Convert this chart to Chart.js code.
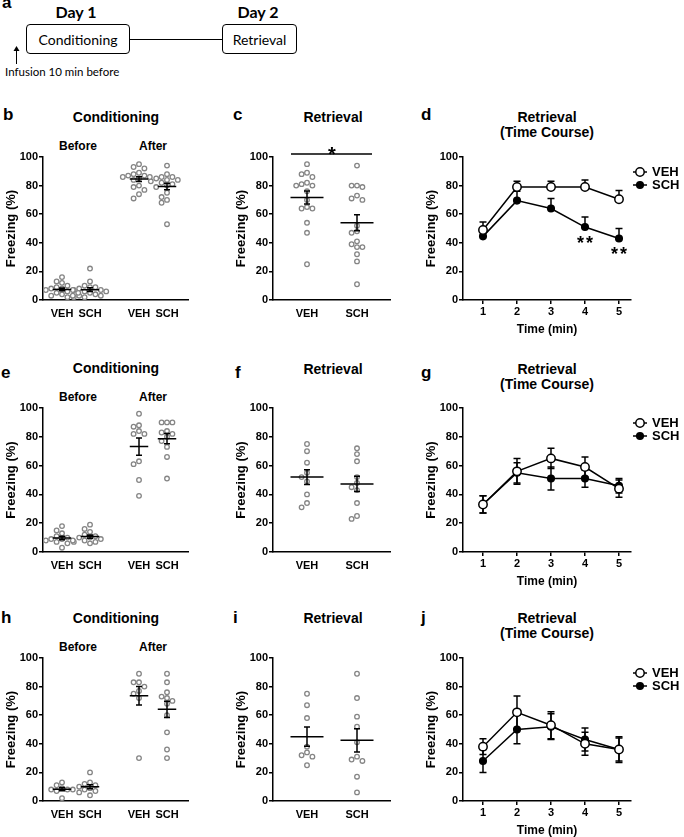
<!DOCTYPE html>
<html>
<head>
<meta charset="utf-8">
<script src="https://cdn.jsdelivr.net/npm/chart.js@4.4.1/dist/chart.umd.min.js"></script>
<style>
  body { margin: 0; background: #fff; }
  #fig { position: relative; width: 684px; height: 837px; overflow: hidden; font-family: 'Liberation Sans', Arial, sans-serif; color: #000; }
  canvas { position: absolute; }
  .t { position: absolute; transform: translate(-50%, -50%); white-space: nowrap; font-weight: bold; font-size: 14px; }
  .small { font-size: 12px; }
  .lbl { position: absolute; font-weight: bold; font-size: 17px; line-height: 17px; }
  .day { font-family: Lato, 'Open Sans', sans-serif; font-size: 16px; }
  .box { position: absolute; box-sizing: border-box; border: 1px solid #000; border-radius: 4px; display: flex; align-items: center; justify-content: center; font-family: Lato, 'Open Sans', sans-serif; font-size: 14px; }
  .hline { position: absolute; height: 0; border-top: 1px solid #000; }
  .note { position: absolute; font-family: Lato, 'Open Sans', sans-serif; font-size: 11.5px; white-space: nowrap; }
</style>
</head>
<body>
<div id="fig">
  <!-- a: schematic -->
  <div class="lbl" style="left:2px;top:-6px">a</div>
  <div class="t day" style="left:76px;top:11px">Day 1</div>
  <div class="t day" style="left:258px;top:11px">Day 2</div>
  <div class="box" style="left:26px;top:24px;width:104px;height:30px">Conditioning</div>
  <div class="hline" style="left:130px;top:39px;width:92px"></div>
  <div class="box" style="left:222px;top:24px;width:75px;height:30px">Retrieval</div>
  <svg style="position:absolute;left:12px;top:46px" width="9" height="19">
    <line x1="4.5" y1="4" x2="4.5" y2="18" stroke="#000" stroke-width="1"/>
    <polygon points="4.5,0 1.5,5 7.5,5" fill="#000"/>
  </svg>
  <div class="note" style="left:5px;top:65px">Infusion 10 min before</div>

  <!-- panel letters and titles -->
  <div class="lbl" style="left:3px;top:106px">b</div>
  <div class="lbl" style="left:233px;top:106px">c</div>
  <div class="lbl" style="left:421px;top:106px">d</div>
  <div class="lbl" style="left:1px;top:364px">e</div>
  <div class="lbl" style="left:235px;top:364px">f</div>
  <div class="lbl" style="left:421px;top:364px">g</div>
  <div class="lbl" style="left:1px;top:609px">h</div>
  <div class="lbl" style="left:233px;top:609px">i</div>
  <div class="lbl" style="left:421px;top:609px">j</div>

  <div class="t" style="left:116px;top:117px">Conditioning</div>
  <div class="t small" style="left:78px;top:146px">Before</div>
  <div class="t small" style="left:153px;top:146px">After</div>
  <div class="t" style="left:333px;top:117px">Retrieval</div>
  <div class="t" style="left:547px;top:117px">Retrieval</div>
  <div class="t" style="left:547px;top:132px">(Time Course)</div>

  <div class="t" style="left:116px;top:368px">Conditioning</div>
  <div class="t small" style="left:78px;top:397px">Before</div>
  <div class="t small" style="left:153px;top:397px">After</div>
  <div class="t" style="left:333px;top:369px">Retrieval</div>
  <div class="t" style="left:547px;top:369px">Retrieval</div>
  <div class="t" style="left:547px;top:384px">(Time Course)</div>

  <div class="t" style="left:116px;top:618px">Conditioning</div>
  <div class="t small" style="left:78px;top:647px">Before</div>
  <div class="t small" style="left:153px;top:647px">After</div>
  <div class="t" style="left:333px;top:618px">Retrieval</div>
  <div class="t" style="left:547px;top:618px">Retrieval</div>
  <div class="t" style="left:547px;top:633px">(Time Course)</div>
</div>

<script>
// ---- data ----
var groupLabels = ['VEH', 'SCH'];
var conditioningLabels = ['VEH', 'SCH', 'VEH', 'SCH'];
var timeMinutes = [1, 2, 3, 4, 5];
var yTicks = [0, 20, 40, 60, 80, 100];

// b: conditioning (freezing %, each mouse)
var bBeforeVEH = [16, 13, 12, 10, 9, 8, 8, 7, 7, 6, 5, 5, 4, 3, 3, 2];
var bBeforeSCH = [22, 13, 10, 9, 9, 8, 7, 7, 6, 6, 5, 4, 3, 3, 2, 2];
var bAfterVEH = [95, 93, 92, 89, 88, 87, 87, 86, 86, 85, 84, 80, 79, 77, 74, 71];
var bAfterSCH = [94, 88, 86, 86, 85, 84, 84, 83, 82, 81, 80, 79, 75, 72, 70, 68, 53];
// c: retrieval
var cVEH = [95, 89, 88, 86, 82, 81, 80, 80, 76, 70, 65, 64, 64, 54, 47, 25];
var cSCH = [94, 80, 80, 79, 73, 71, 70, 52, 48, 47, 41, 39, 37, 37, 32, 27, 11];
// d: retrieval time course (mean, SEM)
var dVEH = [49, 79, 79, 79, 70.5];
var dVEHsem = [5.5, 4, 4, 5, 6];
var dSCH = [44.5, 69.5, 64, 51, 43];
var dSCHsem = [3, 6.5, 7, 7, 7];
var dStarMinutes = [4, 5];

// e
var eBeforeVEH = [18, 15, 13, 11, 10, 9, 9, 8, 8, 7, 6, 3];
var eBeforeSCH = [19, 16, 14, 12, 11, 10, 10, 9, 8, 7, 7, 6];
var eAfterVEH = [96, 88, 87, 84, 82, 82, 63, 61, 50, 39];
var eAfterSCH = [90, 90, 90, 84, 83, 82, 80, 77, 73, 66, 51];
// f
var fVEH = [75, 70, 62, 55, 52, 49, 40, 34, 31];
var fSCH = [72, 68, 63, 52, 48, 45, 43, 34, 25, 23];
// g
var gVEH = [33, 56, 65, 59, 44];
var gVEHsem = [6, 9, 7, 7, 6];
var gSCH = [33, 55, 51, 51, 46];
var gSCHsem = [6, 7, 8, 6, 5];

// h
var hBeforeVEH = [13, 11, 9, 8, 8, 8, 7, 2];
var hBeforeSCH = [20, 13, 12, 11, 10, 9, 8, 7, 6, 4];
var hAfterVEH = [89, 83, 83, 80, 77, 75, 72, 30];
var hAfterSCH = [89, 83, 76, 73, 72, 70, 68, 60, 48, 36, 30];
// i
var iVEH = [75, 67, 58, 38, 34, 32, 31, 25];
var iSCH = [89, 72, 59, 52, 41, 31, 29, 28, 17, 6];
// j
var jVEH = [38, 62, 53, 40, 36];
var jVEHsem = [5.5, 11.5, 9.5, 8, 9];
var jSCH = [28, 50, 52, 43, 36];
var jSCHsem = [8, 10, 9, 8, 8];

// ---- layout ----
var rows = [{top: 157, bottom: 300}, {top: 408, bottom: 552}, {top: 658, bottom: 801}];
var cols = [{left: 0, width: 200, padR: 12}, {left: 230, width: 175, padR: 15}, {left: 420, width: 264, padR: 53}];
var PAD_TOP = 20, X_AXIS_H = 40, Y_AXIS_W = 43;
var FONT = "'Liberation Sans', Arial, sans-serif";

Chart.defaults.font.family = FONT;
Chart.defaults.color = '#000';

function meanOf(a) {
  var s = 0;
  a.forEach(function (v) { s += v; });
  return s / a.length;
}

function semOf(a) {
  var m = meanOf(a), s = 0;
  a.forEach(function (v) { s += (v - m) * (v - m); });
  return Math.sqrt(s / (a.length - 1)) / Math.sqrt(a.length);
}

// simple beeswarm: spread dots sideways so they do not overlap
function swarmOffsets(values, pxPerX, pxPerY) {
  var dot = 5.4;
  var order = values.map(function (v, i) { return i; })
    .sort(function (a, b) { return values[b] - values[a]; });
  var placed = [];
  var offs = [];
  order.forEach(function (i) {
    var y = values[i] * pxPerY;
    for (var k = 0; k < 40; k++) {
      var lane = k === 0 ? 0 : (k % 2 ? -1 : 1) * Math.ceil(k / 2);
      var x = lane * dot;
      var hit = placed.some(function (p) {
        var dx = p.x - x, dy = p.y - y;
        return dx * dx + dy * dy < dot * dot * 0.85;
      });
      if (!hit) {
        placed.push({x: x, y: y});
        offs[i] = x / pxPerX;
        break;
      }
    }
  });
  return offs;
}

function makeCanvas(row, col) {
  var c = document.createElement('canvas');
  c.width = cols[col].width;
  c.height = PAD_TOP + (rows[row].bottom - rows[row].top) + X_AXIS_H;
  c.style.left = cols[col].left + 'px';
  c.style.top = (rows[row].top - PAD_TOP) + 'px';
  document.getElementById('fig').appendChild(c);
  return c;
}

function yScale() {
  return {
    type: 'linear', min: 0, max: 100,
    afterBuildTicks: function (s) { s.ticks = yTicks.map(function (v) { return {value: v}; }); },
    afterFit: function (s) { s.width = Y_AXIS_W; },
    grid: {display: true, drawOnChartArea: false, drawTicks: true, tickLength: 4, color: '#000', lineWidth: 1.5},
    border: {display: true, color: '#000', width: 1.5},
    ticks: {font: {size: 11, weight: 'bold'}, color: '#000', padding: 1},
    title: {display: true, text: 'Freezing (%)', font: {size: 13, weight: 'bold'}, color: '#000', padding: {top: 4, bottom: 0}}
  };
}

function dotChart(row, col, positions, labels, groups, xmin, xmax, extraDraw) {
  var canvas = makeCanvas(row, col);
  var plotW = cols[col].width - Y_AXIS_W - cols[col].padR;
  var pxPerX = plotW / (xmax - xmin);
  var pxPerY = (rows[row].bottom - rows[row].top) / 100;
  var halfW = 0.33;

  var datasets = groups.map(function (vals, gi) {
    var offs = swarmOffsets(vals, pxPerX, pxPerY);
    return {
      data: vals.map(function (v, i) { return {x: positions[gi] + offs[i], y: v}; }),
      pointRadius: 2.3, pointBorderWidth: 1.3,
      pointBorderColor: '#858585', pointBackgroundColor: '#fff', showLine: false
    };
  });

  return new Chart(canvas, {
    type: 'scatter',
    data: {datasets: datasets},
    options: {
      responsive: false, animation: false,
      layout: {padding: {top: PAD_TOP, right: cols[col].padR, bottom: 0, left: 0}},
      plugins: {legend: {display: false}, tooltip: {enabled: false}},
      scales: {
        x: {
          type: 'linear', min: xmin, max: xmax,
          afterBuildTicks: function (s) { s.ticks = positions.map(function (v) { return {value: v}; }); },
          afterFit: function (s) { s.height = X_AXIS_H; },
          grid: {display: false, drawTicks: false},
          border: {display: true, color: '#000', width: 1.5},
          ticks: {font: {size: 11, weight: 'bold'}, color: '#000', padding: 7, autoSkip: false, maxRotation: 0,
            callback: function (v, i) { return labels[i]; }}
        },
        y: yScale()
      }
    },
    plugins: [{
      id: 'meanSem',
      afterDatasetsDraw: function (chart) {
        var ctx = chart.ctx, xs = chart.scales.x, ys = chart.scales.y;
        ctx.save();
        ctx.strokeStyle = '#000';
        ctx.lineWidth = 1.5;
        groups.forEach(function (vals, i) {
          var m = meanOf(vals), e = semOf(vals);
          var xc = xs.getPixelForValue(positions[i]);
          var ym = ys.getPixelForValue(m), yt = ys.getPixelForValue(m + e), yb = ys.getPixelForValue(m - e);
          ctx.beginPath();
          ctx.moveTo(xs.getPixelForValue(positions[i] - halfW), ym);
          ctx.lineTo(xs.getPixelForValue(positions[i] + halfW), ym);
          ctx.moveTo(xc, yt); ctx.lineTo(xc, yb);
          ctx.moveTo(xc - 3, yt); ctx.lineTo(xc + 3, yt);
          ctx.moveTo(xc - 3, yb); ctx.lineTo(xc + 3, yb);
          ctx.stroke();
        });
        ctx.restore();
      },
      afterDraw: function (chart) { if (extraDraw) extraDraw(chart); }
    }]
  });
}

function lineChart(row, col, veh, vehSem, sch, schSem, upperOnly, extraDraw) {
  var canvas = makeCanvas(row, col);
  function pts(arr) { return timeMinutes.map(function (t, i) { return {x: t, y: arr[i]}; }); }
  var series = [
    {label: 'VEH', data: pts(veh), sem: vehSem, fill: '#fff', r: 4.2},
    {label: 'SCH', data: pts(sch), sem: schSem, fill: '#000', r: 3.3}
  ];

  return new Chart(canvas, {
    type: 'line',
    data: {
      datasets: series.map(function (s) {
        return {
          label: s.label, data: s.data, borderColor: '#000', borderWidth: 1.5, tension: 0,
          pointRadius: s.r, pointBorderWidth: 1.5, pointBorderColor: '#000', pointBackgroundColor: s.fill
        };
      })
    },
    options: {
      responsive: false, animation: false,
      layout: {padding: {top: PAD_TOP, right: cols[col].padR, bottom: 0, left: 0}},
      plugins: {legend: {display: false}, tooltip: {enabled: false}},
      scales: {
        x: {
          type: 'linear', min: 0.412, max: 5.353,
          afterBuildTicks: function (s) { s.ticks = timeMinutes.map(function (v) { return {value: v}; }); },
          afterFit: function (s) { s.height = X_AXIS_H; },
          grid: {display: true, drawOnChartArea: false, drawTicks: true, tickLength: 4, color: '#000', lineWidth: 1.5},
          border: {display: true, color: '#000', width: 1.5},
          ticks: {font: {size: 11, weight: 'bold'}, color: '#000', padding: 1, autoSkip: false, maxRotation: 0},
          title: {display: true, text: 'Time (min)', font: {size: 12, weight: 'bold'}, color: '#000', padding: {top: 0, bottom: 3}}
        },
        y: yScale()
      }
    },
    plugins: [{
      id: 'errorBars',
      beforeDatasetsDraw: function (chart) {
        var ctx = chart.ctx, xs = chart.scales.x, ys = chart.scales.y;
        ctx.save();
        ctx.strokeStyle = '#000';
        ctx.lineWidth = 1.5;
        series.forEach(function (s) {
          s.data.forEach(function (p, i) {
            var x = xs.getPixelForValue(p.x);
            var yt = ys.getPixelForValue(p.y + s.sem[i]);
            var yb = ys.getPixelForValue(upperOnly ? p.y : p.y - s.sem[i]);
            ctx.beginPath();
            ctx.moveTo(x, yt); ctx.lineTo(x, yb);
            ctx.moveTo(x - 3.5, yt); ctx.lineTo(x + 3.5, yt);
            if (!upperOnly) { ctx.moveTo(x - 3.5, yb); ctx.lineTo(x + 3.5, yb); }
            ctx.stroke();
          });
        });
        ctx.restore();
      },
      afterDraw: function (chart) {
        var ctx = chart.ctx, ys = chart.scales.y;
        var x0 = chart.chartArea.right + 2;
        var y100 = ys.getPixelForValue(100);
        ctx.save();
        series.forEach(function (s, k) {
          var y = y100 + 15 + k * 13;
          ctx.strokeStyle = '#000';
          ctx.lineWidth = 1.5;
          ctx.beginPath();
          ctx.moveTo(x0, y); ctx.lineTo(x0 + 14, y);
          ctx.stroke();
          ctx.beginPath();
          ctx.arc(x0 + 7, y, s.r, 0, Math.PI * 2);
          ctx.fillStyle = s.fill;
          ctx.fill();
          ctx.stroke();
          ctx.fillStyle = '#000';
          ctx.font = 'bold 13px ' + FONT;
          ctx.textBaseline = 'middle';
          ctx.textAlign = 'left';
          ctx.fillText(s.label, x0 + 19, y);
        });
        ctx.restore();
        if (extraDraw) extraDraw(chart);
      }
    }]
  });
}

function drawStar(ctx, x, yCenter, size) {
  ctx.font = 'bold ' + size + 'px ' + FONT;
  ctx.textAlign = 'center';
  ctx.textBaseline = 'alphabetic';
  ctx.fillStyle = '#000';
  ctx.fillText('*', x, yCenter + size * 0.58);
}

var condPos = [1, 2, 3.75, 4.75];
var retPos = [1, 2];

// row 1
dotChart(0, 0, condPos, conditioningLabels, [bBeforeVEH, bBeforeSCH, bAfterVEH, bAfterSCH], 0.321, 5.5);
dotChart(0, 1, retPos, groupLabels, [cVEH, cSCH], 0.32, 2.66, function (chart) {
  var ctx = chart.ctx, xs = chart.scales.x, ys = chart.scales.y;
  var y = ys.getPixelForValue(100) - 3;
  ctx.save();
  ctx.strokeStyle = '#000';
  ctx.lineWidth = 1.5;
  ctx.beginPath();
  ctx.moveTo(xs.getPixelForValue(retPos[0] - 0.32), y);
  ctx.lineTo(xs.getPixelForValue(retPos[1] + 0.3), y);
  ctx.stroke();
  drawStar(ctx, xs.getPixelForValue((retPos[0] + retPos[1]) / 2), y - 5, 20);
  ctx.restore();
});
lineChart(0, 2, dVEH, dVEHsem, dSCH, dSCHsem, true, function (chart) {
  var ctx = chart.ctx, xs = chart.scales.x, ys = chart.scales.y;
  ctx.save();
  dStarMinutes.forEach(function (t) {
    var i = timeMinutes.indexOf(t);
    var x = xs.getPixelForValue(t), y = ys.getPixelForValue(dSCH[i]) + 11;
    drawStar(ctx, x - 4.5, y, 18);
    drawStar(ctx, x + 4.5, y, 18);
  });
  ctx.restore();
});

// row 2
dotChart(1, 0, condPos, conditioningLabels, [eBeforeVEH, eBeforeSCH, eAfterVEH, eAfterSCH], 0.321, 5.5);
dotChart(1, 1, retPos, groupLabels, [fVEH, fSCH], 0.32, 2.66);
lineChart(1, 2, gVEH, gVEHsem, gSCH, gSCHsem, false);

// row 3
dotChart(2, 0, condPos, conditioningLabels, [hBeforeVEH, hBeforeSCH, hAfterVEH, hAfterSCH], 0.321, 5.5);
dotChart(2, 1, retPos, groupLabels, [iVEH, iSCH], 0.32, 2.66);
lineChart(2, 2, jVEH, jVEHsem, jSCH, jSCHsem, false);
</script>
</body>
</html>
